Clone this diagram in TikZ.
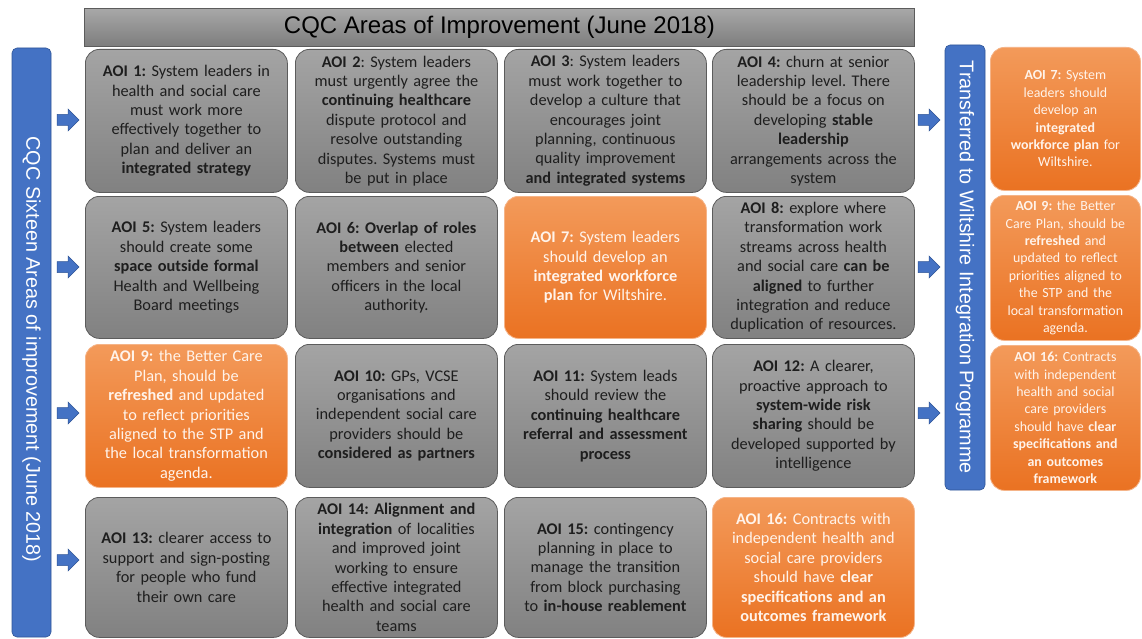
\documentclass[tikz,border=0pt]{standalone}
\usepackage{fontspec}
\setmainfont{Carlito}
\newfontfamily\headfont{Liberation Sans}
\frenchspacing

\definecolor{boxgrayT}{HTML}{A4A4A4}
\definecolor{boxgrayB}{HTML}{818181}
\definecolor{boxline}{HTML}{5C5C5C}
\definecolor{orT}{HTML}{F39A5A}
\definecolor{orB}{HTML}{EA7222}
\definecolor{orline}{HTML}{F5B488}
\definecolor{barblue}{HTML}{4472C4}
\definecolor{barline}{HTML}{2F5597}
\definecolor{txtdark}{HTML}{1E1E1E}
\definecolor{txtlight}{HTML}{FFF3EA}
\definecolor{titleT}{HTML}{A8A8A8}
\definecolor{titleB}{HTML}{7D7D7D}

\tikzset{
  aoi/.style={rounded corners=14pt, draw=boxline, line width=0.8pt,
    top color=boxgrayT, bottom color=boxgrayB, text=txtdark,
    align=center, inner sep=0pt, anchor=north west,
    minimum width=202pt, text width=196pt,
    font=\fontsize{16.3}{19.4}\selectfont},
  aoiorange/.style={aoi, draw=orline, top color=orT, bottom color=orB,
    text=txtlight},
  sidebox/.style={aoiorange, minimum width=150pt, text width=144pt,
    font=\fontsize{13.9}{17.4}\selectfont},
  blueside/.style={draw=barline, line width=0.6pt, fill=barblue,
    rounded corners=5pt, inner sep=0pt},
  sidetext/.style={text=white, inner sep=0pt, rotate=-90,
    font=\headfont\fontsize{19.8}{23}\selectfont},
  blockarrow/.pic={
    \fill[barblue, draw=barline, line width=0.5pt]
      (-11,-5.5) -- (0,-5.5) -- (0,-11) -- (11,0) -- (0,11) -- (0,5.5)
      -- (-11,5.5) -- cycle;
  }
}

\begin{document}
\begin{tikzpicture}[x=1pt,y=-1pt]
\useasboundingbox (0,0) rectangle (1142,639);
\fill[white] (0,0) rectangle (1142,639);

% heading bar
\node[draw=boxline, line width=0.8pt, top color=titleT, bottom color=titleB,
  minimum width=830pt, minimum height=38pt, inner sep=0pt, anchor=north west,
  font=\headfont\fontsize{24}{28}\selectfont] (title) at (84,8)
  {CQC Areas of Improvement (June 2018)};

% side bars and their vertical captions
\node[blueside, minimum width=39pt, minimum height=589pt]
  (lbar) at (31.5,342.5) {};
\node[sidetext] (lbartext) at ([yshift=-7pt]lbar.center)
  {CQC Sixteen Areas of improvement (June 2018)};
\node[blueside, minimum width=40pt, minimum height=445pt]
  (rbar) at (965,267.5) {};
\node[sidetext] (rbartext) at (rbar.center)
  {Transferred to Wiltshire Integration Programme};

% row 1
\node[aoi, minimum height=143pt] (a1) at (85,49)
  {\textbf{AOI 1:} System leaders in\\health and social care\\must work more\\effectively together to\\plan and deliver an\\\textbf{integrated strategy}};
\node[aoi, minimum height=143pt] (a2) at (295,49)
  {\textbf{AOI 2}: System leaders\\must urgently agree the\\\textbf{continuing healthcare}\\dispute protocol and\\resolve outstanding\\disputes. Systems must\\be put in place};
\node[aoi, minimum height=143pt] (a3) at (504,49)
  {\textbf{AOI 3}: System leaders\\must work together to\\develop a culture that\\encourages joint\\planning, continuous\\quality improvement\\\textbf{and integrated systems}};
\node[aoi, minimum height=143pt] (a4) at (712,49)
  {\textbf{AOI 4:} churn at senior\\leadership level. There\\should be a focus on\\developing \textbf{stable}\\\textbf{leadership}\\arrangements across the\\system};

% row 2
\node[aoi, minimum height=142pt] (a5) at (85,196)
  {\textbf{AOI 5:} System leaders\\should create some\\\textbf{space outside formal}\\Health and Wellbeing\\Board meetings};
\node[aoi, minimum height=142pt] (a6) at (295,196)
  {\textbf{AOI 6: Overlap of roles}\\\textbf{between} elected\\members and senior\\officers in the local\\authority.};
\node[aoiorange, minimum height=142pt] (a7) at (504,196)
  {\textbf{AOI 7:} System leaders\\should develop an\\\textbf{integrated workforce}\\\textbf{plan} for Wiltshire.};
\node[aoi, minimum height=142pt] (a8) at (712,196)
  {\textbf{AOI 8:} explore where\\transformation work\\streams across health\\and social care \textbf{can be}\\\textbf{aligned} to further\\integration and reduce\\duplication of resources.};

% row 3
\node[aoiorange, minimum height=143pt] (a9) at (85,344)
  {\textbf{AOI 9:} the Better Care\\Plan, should be\\\textbf{refreshed} and updated\\to reflect priorities\\aligned to the STP and\\the local transformation\\agenda.};
\node[aoi, minimum height=143pt] (a10) at (295,344)
  {\textbf{AOI 10:} GPs, VCSE\\organisations and\\independent social care\\providers should be\\\textbf{considered as partners}};
\node[aoi, minimum height=143pt] (a11) at (504,344)
  {\textbf{AOI 11:} System leads\\should review the\\\textbf{continuing healthcare}\\\textbf{referral and assessment}\\\textbf{process}};
\node[aoi, minimum height=143pt] (a12) at (712,344)
  {\textbf{AOI 12:} A clearer,\\proactive approach to\\\textbf{system-wide risk}\\\textbf{sharing} should be\\developed supported by\\intelligence};

% row 4
\node[aoi, minimum height=140pt] (a13) at (85,497)
  {\textbf{AOI 13:} clearer access to\\support and sign-posting\\for people who fund\\their own care};
\node[aoi, minimum height=140pt] (a14) at (295,497)
  {\textbf{AOI 14: Alignment and}\\\textbf{integration} of localities\\and improved joint\\working to ensure\\effective integrated\\health and social care\\teams};
\node[aoi, minimum height=140pt] (a15) at (504,497)
  {\textbf{AOI 15:} contingency\\planning in place to\\manage the transition\\from block purchasing\\to \textbf{in-house reablement}};
\node[aoiorange, minimum height=140pt] (a16) at (712,497)
  {\textbf{AOI 16:} Contracts with\\independent health and\\social care providers\\should have \textbf{clear}\\\textbf{specifications and an}\\\textbf{outcomes framework}};

% transferred items
\node[sidebox, minimum height=143pt] (r7) at (990,47)
  {\textbf{AOI 7:} System\\leaders should\\develop an\\\textbf{integrated}\\\textbf{workforce plan} for\\Wiltshire.};
\node[sidebox, minimum height=145pt] (r9) at (990,195)
  {\textbf{AOI 9:} the Better\\Care Plan, should be\\\textbf{refreshed} and\\updated to reflect\\priorities aligned to\\the STP and the\\local transformation\\agenda.};
\node[sidebox, minimum height=145pt] (r16) at (990,345)
  {\textbf{AOI 16:} Contracts\\with independent\\health and social\\care providers\\should have \textbf{clear}\\\textbf{specifications and}\\\textbf{an outcomes}\\\textbf{framework}};

% block arrows into the rows
\pic at (68,120) {blockarrow};
\pic at (68,267) {blockarrow};
\pic at (68,413) {blockarrow};
\pic at (68,560) {blockarrow};
\pic at (929,120) {blockarrow};
\pic at (929,267) {blockarrow};
\pic at (929,413) {blockarrow};
\end{tikzpicture}
\end{document}
